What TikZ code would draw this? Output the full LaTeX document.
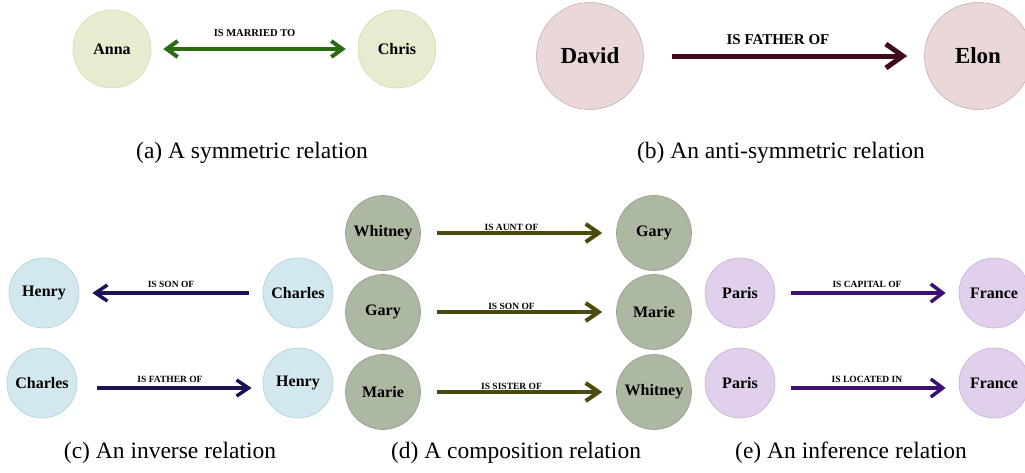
\documentclass[tikz,border=0pt]{standalone}
\usepackage{fontspec}
\setmainfont{Liberation Serif}
\usepackage{xcolor}
\usepackage{tikz}
\usetikzlibrary{arrows.meta}
\definecolor{fillA}{HTML}{E8EBCF}
\definecolor{edgeA}{HTML}{D3D9AC}
\definecolor{arrA}{HTML}{2C6B12}
\definecolor{fillB}{HTML}{EAD7D7}
\definecolor{edgeB}{HTML}{C7ADAD}
\definecolor{arrB}{HTML}{3F0B1B}
\definecolor{fillC}{HTML}{D2E8EE}
\definecolor{edgeC}{HTML}{A9D0DC}
\definecolor{arrC}{HTML}{1B1155}
\definecolor{fillD}{HTML}{ACB8A1}
\definecolor{edgeD}{HTML}{909C86}
\definecolor{arrD}{HTML}{4B4A0D}
\definecolor{fillE}{HTML}{E1D0EB}
\definecolor{edgeE}{HTML}{C7AFD9}
\definecolor{arrE}{HTML}{3C1070}
\tikzset{
  ent/.style={circle, line width=0.6pt, inner sep=0pt, font=\bfseries\fontsize{16}{16}\selectfont},
  entA/.style={ent, fill=fillA, draw=edgeA, minimum size=78pt},
  entB/.style={ent, fill=fillB, draw=edgeB, minimum size=107pt, font=\bfseries\fontsize{23}{23}\selectfont},
  entC/.style={ent, fill=fillC, draw=edgeC, minimum size=70pt},
  entD/.style={ent, fill=fillD, draw=edgeD, minimum size=75pt},
  entE/.style={ent, fill=fillE, draw=edgeE, minimum size=70pt},
  relA/.style={{Straight Barb[length=11pt,width=16pt]}-{Straight Barb[length=11pt,width=16pt]}, line width=4pt, draw=arrA, shorten <=12pt, shorten >=12pt},
  relB/.style={-{Straight Barb[length=17pt,width=24pt]}, line width=5pt, draw=arrB, shorten <=28pt, shorten >=17pt},
  relC/.style={-{Straight Barb[length=12pt,width=16pt]}, line width=3.5pt, draw=arrC, shorten <=14pt, shorten >=13pt},
  relD/.style={-{Straight Barb[length=13pt,width=18pt]}, line width=4pt, draw=arrD, shorten <=16pt, shorten >=14pt},
  relE/.style={-{Straight Barb[length=12pt,width=18pt]}, line width=3.5pt, draw=arrE, shorten <=16pt, shorten >=13pt},
  lab/.style={midway, anchor=base, inner sep=0pt, font=\bfseries\fontsize{9.5}{9.5}\selectfont},
  subcap/.style={font=\fontsize{23.5}{23.5}\selectfont}
}
\begin{document}
\begin{tikzpicture}[x=1pt,y=-1pt]
  \useasboundingbox (0,0) rectangle (1025,472);

  % (a) symmetric
  \node[entA] (anna) at (112,49) {Anna};
  \node[entA] (chris) at (397,49) {Chris};
  \draw[relA] (anna) -- (chris) node[lab, yshift=13pt, font=\bfseries\fontsize{10.5}{10.5}\selectfont] {IS MARRIED TO};
  \node[subcap] (capa) at (252,153) {(a) A symmetric relation};

  % (b) anti-symmetric
  \node[entB] (david) at (590,56) {David};
  \node[entB] (elon) at (978,56) {Elon};
  \draw[relB] (david) -- (elon) node[lab, xshift=-6pt, yshift=12pt, font=\bfseries\fontsize{15}{15}\selectfont] {IS FATHER OF};
  \node[subcap] (capb) at (781,153) {(b) An anti-symmetric relation};

  % (c) inverse
  \node[entC] (henry1) at (44,293) {Henry};
  \node[entC] (charles1) at (298,293) {Charles};
  \node[entC] (charles2) at (42,383) {Charles};
  \node[entC] (henry2) at (298,383) {Henry};
  \draw[relC] (charles1) -- (henry1) node[lab, yshift=6pt] {IS SON OF};
  \draw[relC, shorten <=20pt, shorten >=11pt] ([yshift=-5pt]charles2.east) -- ([yshift=-5pt]henry2.west) node[lab, yshift=6pt] {IS FATHER OF};
  \node[subcap] (capc) at (170,453) {(c) An inverse relation};

  % (d) composition
  \node[entD] (whitney1) at (383,233) {Whitney};
  \node[entD] (gary1) at (383,312) {Gary};
  \node[entD] (marie1) at (383,392) {Marie};
  \node[entD] (gary2) at (654,233) {Gary};
  \node[entD] (marie2) at (654,312) {Marie};
  \node[entD] (whitney2) at (654,392) {Whitney};
  \draw[relD] (whitney1) -- (gary2) node[lab, xshift=-7pt, yshift=3pt] {IS AUNT OF};
  \draw[relD] (gary1) -- (marie2) node[lab, xshift=-7pt, yshift=3pt] {IS SON OF};
  \draw[relD] (marie1) -- (whitney2) node[lab, xshift=-7pt, yshift=3pt] {IS SISTER OF};
  \node[subcap] (capd) at (516,453) {(d) A composition relation};

  % (e) inference
  \node[entE] (paris1) at (740,293) {Paris};
  \node[entE] (france1) at (994,293) {France};
  \node[entE] (paris2) at (740,383) {Paris};
  \node[entE] (france2) at (994,383) {France};
  \draw[relE] (paris1) -- (france1) node[lab, yshift=6pt] {IS CAPITAL OF};
  \draw[relE] ([yshift=-5pt]paris2.east) -- ([yshift=-5pt]france2.west) node[lab, yshift=6pt] {IS LOCATED IN};
  \node[subcap] (cape) at (851,453) {(e) An inference relation};
\end{tikzpicture}
\end{document}
